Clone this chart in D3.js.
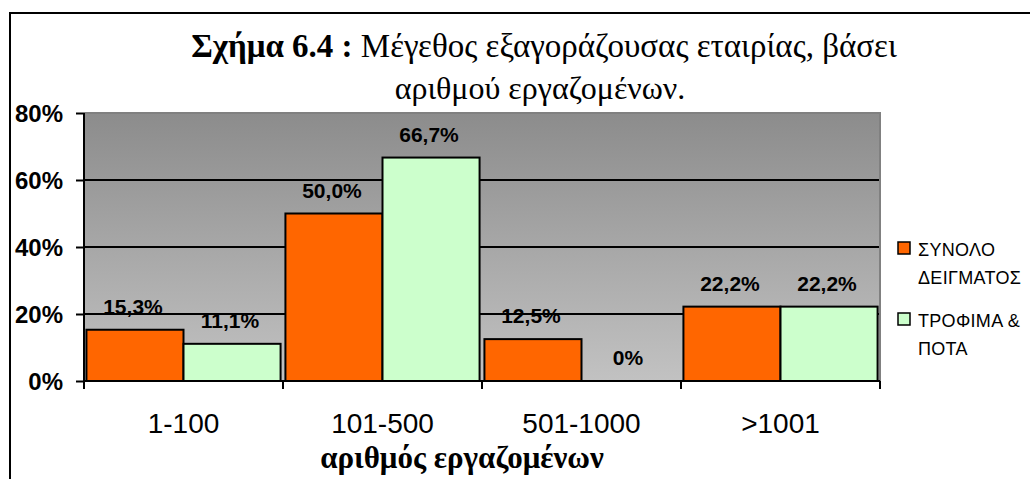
<!DOCTYPE html>
<html>
<head>
<meta charset="utf-8">
<script src="https://cdn.jsdelivr.net/npm/d3@7"></script>
<style>
  html, body { margin: 0; padding: 0; background: #ffffff; }
  svg { display: block; }
</style>
</head>
<body>
<script>
// Company size of acquiring firms, by number of employees
const categories = ["1-100", "101-500", "501-1000", ">1001"];
const seriesNames = ["ΣΥΝΟΛΟ ΔΕΙΓΜΑΤΟΣ", "ΤΡΟΦΙΜΑ & ΠΟΤΑ"];
const totalSample = [15.3, 50.0, 12.5, 22.2];
const foodDrink = [11.1, 66.7, 0, 22.2];
const valueLabels = [["15,3%", "50,0%", "12,5%", "22,2%"], ["11,1%", "66,7%", "0%", "22,2%"]];
const yTicks = [0, 20, 40, 60, 80];
const yTickLabels = ["0%", "20%", "40%", "60%", "80%"];
const legendLines = [["ΣΥΝΟΛΟ", "ΔΕΙΓΜΑΤΟΣ"], ["ΤΡΟΦΙΜΑ &", "ΠΟΤΑ"]];
const colors = ["#FF6600", "#CCFFCC"];

const W = 1030, H = 479;
const plot = { left: 84, right: 880, top: 113, bottom: 381 };
const sans = "Liberation Sans";
const serif = "Liberation Serif";

const svg = d3.select("body").append("svg").attr("width", W).attr("height", H);

// outer frame
svg.append("rect")
  .attr("x", 10).attr("y", 13).attr("width", W + 20).attr("height", H + 20)
  .attr("fill", "#fff").attr("stroke", "#000").attr("stroke-width", 2);

// title
const title = svg.append("text")
  .attr("x", 544).attr("y", 57).attr("text-anchor", "middle")
  .attr("font-family", serif).attr("font-size", 33).attr("fill", "#000");
title.append("tspan").attr("font-weight", "bold").text("Σχήμα 6.4 :");
title.append("tspan").text(" Μέγεθος εξαγοράζουσας εταιρίας, βάσει");
svg.append("text")
  .attr("x", 540).attr("y", 99).attr("text-anchor", "middle")
  .attr("font-family", serif).attr("font-size", 32).attr("fill", "#000")
  .text("αριθμού εργαζομένων.");

// scales
const x0 = d3.scaleBand().domain(categories).range([plot.left, plot.right]).paddingInner(0).paddingOuter(0);
const x1 = d3.scaleBand().domain([0, 1]).range([0, x0.bandwidth()]).paddingOuter(0.025).paddingInner(0);
const y = d3.scaleLinear().domain([0, 80]).range([plot.bottom, plot.top]);

// plot background gradient
const defs = svg.append("defs");
const grad = defs.append("linearGradient").attr("id", "plotBg")
  .attr("x1", 0).attr("y1", 0).attr("x2", 0).attr("y2", 1);
grad.append("stop").attr("offset", "0%").attr("stop-color", "#8c8c8c");
grad.append("stop").attr("offset", "100%").attr("stop-color", "#c2c2c2");

svg.append("rect")
  .attr("x", plot.left).attr("y", plot.top)
  .attr("width", plot.right - plot.left).attr("height", plot.bottom - plot.top)
  .attr("fill", "url(#plotBg)");

// gridlines
svg.append("g").selectAll("line")
  .data(yTicks.filter(d => d > 0 && d < 80))
  .join("line")
  .attr("x1", plot.left).attr("x2", plot.right)
  .attr("y1", d => y(d)).attr("y2", d => y(d))
  .attr("stroke", "#000").attr("stroke-width", 2);

// plot border (top and right)
svg.append("path")
  .attr("d", `M${plot.left},${plot.top}H${plot.right}V${plot.bottom}`)
  .attr("fill", "none").attr("stroke", "#808080").attr("stroke-width", 2);

// bars
const series = [totalSample, foodDrink];
const groups = svg.append("g").selectAll("g")
  .data(series).join("g")
  .attr("fill", (d, i) => colors[i]);
groups.selectAll("rect")
  .data((d, si) => d.map((v, ci) => ({ v, ci, si })))
  .join("rect")
  .filter(d => d.v > 0)
  .attr("x", d => x0(categories[d.ci]) + x1(d.si))
  .attr("y", d => y(d.v))
  .attr("width", x1.bandwidth())
  .attr("height", d => y(0) - y(d.v))
  .attr("stroke", "#000").attr("stroke-width", 2);

// value labels
const labelData = [];
series.forEach((s, si) => s.forEach((v, ci) => labelData.push({ v, si, ci, t: valueLabels[si][ci] })));
svg.append("g").selectAll("text")
  .data(labelData).join("text")
  .attr("x", d => x0(categories[d.ci]) + x1(d.si) + x1.bandwidth() / 2 - 2)
  .attr("y", d => y(d.v) - 16)
  .attr("text-anchor", "middle")
  .attr("font-family", sans).attr("font-weight", "bold").attr("font-size", 21)
  .attr("fill", "#000")
  .text(d => d.t);

// y axis
const yAxis = svg.append("g")
  .attr("transform", `translate(${plot.left},0)`)
  .call(d3.axisLeft(y).tickValues(yTicks).tickFormat((d, i) => yTickLabels[i]).tickSize(8).tickPadding(13));
yAxis.select(".domain").attr("stroke", "#000").attr("stroke-width", 2).attr("d", `M0,${plot.top}V${plot.bottom}`);
yAxis.selectAll(".tick line").attr("stroke", "#000").attr("stroke-width", 2);
yAxis.selectAll(".tick text")
  .attr("font-family", sans).attr("font-weight", "bold").attr("font-size", 24)
  .attr("fill", "#000").attr("dy", "0.36em");

// x axis
const xAxis = svg.append("g")
  .attr("transform", `translate(0,${plot.bottom})`)
  .call(d3.axisBottom(x0).tickSize(0).tickPadding(32));
xAxis.select(".domain").attr("stroke", "#000").attr("stroke-width", 2).attr("d", `M${plot.left},0H${plot.right}`);
xAxis.selectAll(".tick text")
  .attr("font-family", sans).attr("font-size", 28).attr("fill", "#000");
// category boundary ticks
const bounds = categories.map(c => x0(c)).concat([plot.right]);
xAxis.append("g").selectAll("line")
  .data(bounds).join("line")
  .attr("x1", d => d).attr("x2", d => d)
  .attr("y1", 0).attr("y2", 8)
  .attr("stroke", "#000").attr("stroke-width", 2);

// x axis title
svg.append("text")
  .attr("x", 462).attr("y", 468).attr("text-anchor", "middle")
  .attr("font-family", serif).attr("font-weight", "bold").attr("font-size", 31)
  .attr("fill", "#000")
  .text("αριθμός εργαζομένων");

// legend
const legend = svg.append("g");
const legendTop = [242, 313];
legendLines.forEach((lines, i) => {
  legend.append("rect")
    .attr("x", 898).attr("y", legendTop[i]).attr("width", 12).attr("height", 12)
    .attr("fill", colors[i]).attr("stroke", "#000").attr("stroke-width", 1.5);
  lines.forEach((ln, j) => {
    legend.append("text")
      .attr("x", 918).attr("y", legendTop[i] + 14 + j * 28)
      .attr("font-family", sans).attr("font-size", 18).attr("letter-spacing", 0.3)
      .attr("fill", "#000")
      .text(ln);
  });
});
</script>
</body>
</html>
